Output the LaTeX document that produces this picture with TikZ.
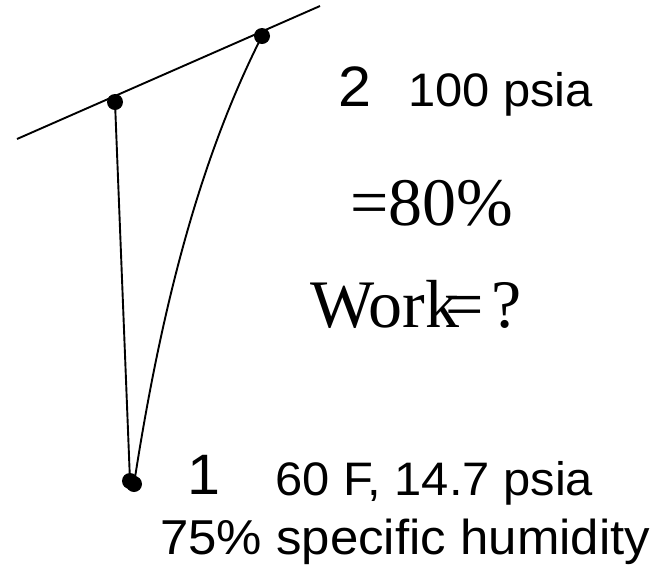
\documentclass[tikz,border=0pt]{standalone}
\usepackage{fontspec}
\setmainfont{Liberation Serif}
\newfontfamily\widesans[FakeStretch=1.04]{Liberation Sans}
\usetikzlibrary{positioning}
\tikzset{
  dot/.style={circle,fill=black,inner sep=0pt,minimum size=16pt},
  curveline/.style={line width=1.9pt},
  statenum/.style={anchor=base west,inner sep=0pt,font=\widesans\fontsize{57}{62}\selectfont},
  statetxt/.style={anchor=base west,inner sep=0pt,font=\widesans\fontsize{47}{54}\selectfont},
  bigtxt/.style={anchor=base west,inner sep=0pt,font=\fontsize{68}{74}\selectfont}
}
\begin{document}
\begin{tikzpicture}[x=1pt,y=-1pt]
\useasboundingbox (0,0) rectangle (654,566);
% line through states
\coordinate (linel) at (17,139);
\coordinate (liner) at (320,6);
\draw[curveline] (linel) -- (liner);
% states
\node[dot] (s2a) at (115,102) {};
\node[dot] (s2) at (262,36) {};
\node[dot] (s1) at (130,481) {};
\node[dot] (s1b) at (134,484) {};
\draw[curveline] (s2a.center) -- (s1.center);
\draw[curveline] (s2.center) .. controls (196,166) and (159,322) .. (s1b.center);
% labels
\node[statenum] (n2) at (338,106) {2};
\node[statetxt] (p2) at (408,106) {100 psia};
\node[bigtxt] (eff) at (350,225) {=80\%};
\node[bigtxt] (work) at (310,327) {Work\kern-14pt=\kern8pt?};
\node[statenum] (n1) at (187,494) {1};
\node[statetxt] (p1) at (275,495) {60 F, 14.7 psia};
\node[statetxt,font=\widesans\fontsize{49}{54}\selectfont] (hum) at (160,554) {75\% specific humidity};
\end{tikzpicture}
\end{document}
